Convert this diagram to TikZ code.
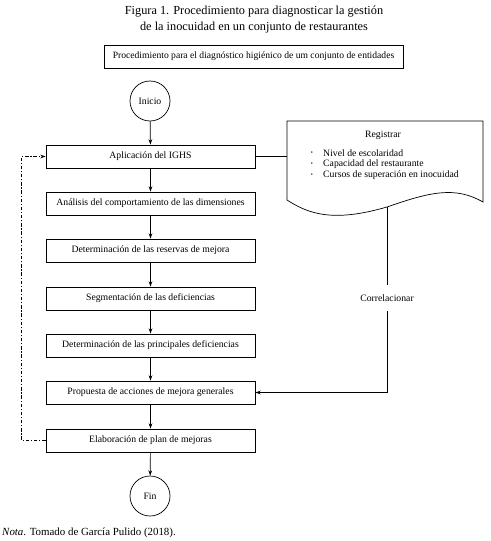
\documentclass[tikz,border=0pt]{standalone}
\usepackage{fontspec}
\setmainfont{Liberation Serif}
\usetikzlibrary{arrows.meta, positioning}

\begin{document}
\begin{tikzpicture}[x=0.03cm, y=-0.03cm,
    paso/.style={draw, line width=0.8pt, minimum width=6.27cm, minimum height=0.69cm, inner sep=0pt, font=\fontsize{8.3}{10}\selectfont},
    terminal/.style={draw, circle, line width=0.6pt, minimum size=1.2cm, inner sep=0pt, font=\fontsize{8.3}{10}\selectfont},
    flecha/.style={line width=0.6pt, -{Stealth[length=4.5pt, width=3.2pt]}},
    linea/.style={line width=0.6pt},
    retorno/.style={line width=0.6pt, dash pattern=on 3pt off 1.5pt on 1pt off 1.5pt, -{Stealth[length=4.5pt, width=3.2pt]}},
    texto/.style={font=\fontsize{8.3}{10}\selectfont, inner sep=0pt},
    vineta/.style={font=\fontsize{5}{6}\selectfont, inner sep=0pt}]
    \useasboundingbox (0,0) rectangle (490,541);
    % Title
    \node[align=center, font=\fontsize{10.5}{13.6}\selectfont] (titulo) at (254,20) {Figura 1. Procedimiento para diagnosticar la gestión\\de la inocuidad en un conjunto de restaurantes};
    \node[draw, line width=0.8pt, minimum width=8.97cm, minimum height=0.69cm, font=\fontsize{8.2}{10}\selectfont] (proc) at (253.5,56.5) {Procedimiento para el diagnóstico higiénico de um conjunto de entidades};
    % Main sequence
    \node[terminal] (inicio) at (150,101) {Inicio};
    \node[paso] (aplic) at (150.5,156.5) {Aplicación del IGHS};
    \node[paso] (anal) at (150.5,203.5) {Análisis del comportamiento de las dimensiones};
    \node[paso] (reserv) at (150.5,250.5) {Determinación de las reservas de mejora};
    \node[paso] (segm) at (150.5,298.5) {Segmentación de las deficiencias};
    \node[paso] (princ) at (150.5,345.5) {Determinación de las principales deficiencias};
    \node[paso] (prop) at (150.5,392.5) {Propuesta de acciones de mejora generales};
    \node[paso] (elab) at (150.5,440.5) {Elaboración de plan de mejoras};
    \node[terminal] (fin) at (150,496) {Fin};
    \draw[flecha] (inicio) -- (aplic);
    \draw[flecha] (aplic) -- (anal);
    \draw[flecha] (anal) -- (reserv);
    \draw[flecha] (reserv) -- (segm);
    \draw[flecha] (segm) -- (princ);
    \draw[flecha] (princ) -- (prop);
    \draw[flecha] (prop) -- (elab);
    \draw[flecha] (elab) -- (fin);
    % Feedback loop
    \draw[retorno] (elab.west) -- ++(-24,0) |- (aplic.west);
    % Document shape
    \coordinate (docizq) at (287,156.5);
    \coordinate (docbase) at (387,207);
    \draw[line width=0.6pt] (287,121) -- (483,121) -- (483,202)
        .. controls (455,186) and (430,192) .. (docbase)
        .. controls (335,222) and (310,215) .. (287,200) -- cycle;
    \node[texto] (registrar) at (383,135) {Registrar};
    \node[vineta] (b1) at (312,153.5) {\textbullet};
    \node[vineta] (b2) at (312,164.5) {\textbullet};
    \node[vineta] (b3) at (312,175.5) {\textbullet};
    \node[texto, anchor=west] (n1) at (323,153.5) {Nivel de escolaridad};
    \node[texto, anchor=west] (n2) at (323,164.5) {Capacidad del restaurante};
    \node[texto, anchor=west] (n3) at (323,175.5) {Cursos de superación en inocuidad};
    \draw[linea] (aplic.east) -- (docizq);
    \draw[flecha] (docbase) -- node[pos=0.49, fill=white, inner xsep=1pt, inner ysep=8pt, font=\fontsize{8.3}{10}\selectfont] (correl) {Correlacionar} (docbase |- prop.east) -- (prop.east);
    % Note
    \node[anchor=west, font=\fontsize{9.3}{11}\selectfont, inner sep=0pt] (nota) at (2,533) {\textit{Nota}. Tomado de García Pulido (2018).};
\end{tikzpicture}
\end{document}
